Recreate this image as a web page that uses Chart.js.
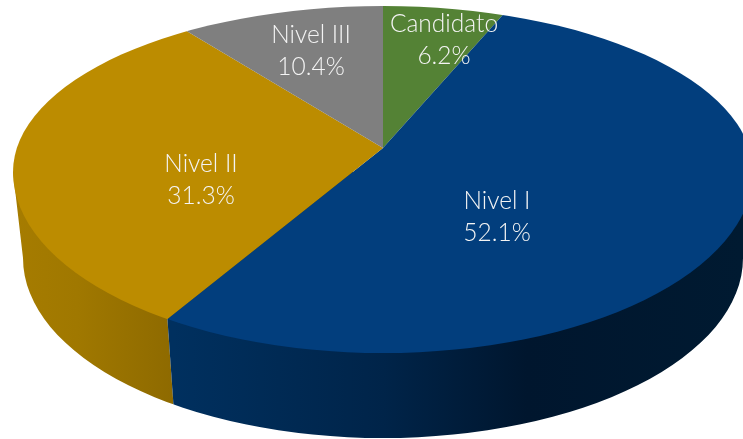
<!DOCTYPE html>
<html>
<head>
<meta charset="utf-8">
<style>html,body{margin:0;padding:0;background:#fff;overflow:hidden}canvas{display:block}</style>
<script src="https://cdn.jsdelivr.net/npm/chart.js@4"></script>
</head>
<body>
<canvas id="c" width="743" height="439"></canvas>
<script>
const categories = ["Candidato", "Nivel I", "Nivel II", "Nivel III"];
const shares = [6.2, 52.1, 31.3, 10.4];
const sliceColors = ["#548235", "#023E7D", "#BC8C00", "#7F7F7F"];

// projection of the tilted disc
const apex = {x: 383, y: 148};
const squash = 0.456;
const topFace = {x: 383, y: 172, rx: 370, ryUp: 166, ryDown: 181};
const lowFace = {x: 383, y: 258, rx: 360, ry: 180};
const labelAt = [[444, 24], [497, 201], [201, 164], [311, 35]];
const lineGap = 32;

function rimPath(ctx) {
  ctx.beginPath();
  ctx.moveTo(topFace.x - topFace.rx, topFace.y);
  ctx.lineTo(lowFace.x - lowFace.rx, lowFace.y);
  ctx.ellipse(lowFace.x, lowFace.y, lowFace.rx, lowFace.ry, 0, Math.PI, 0, true);
  ctx.lineTo(topFace.x + topFace.rx, topFace.y);
  ctx.closePath();
}
// where a slice edge leaves the near half of the top outline
function edgeOnTop(angle) {
  const dx = Math.cos(angle), dy = Math.sin(angle) * squash;
  const ox = apex.x - topFace.x, oy = apex.y - topFace.y;
  const rx2 = topFace.rx * topFace.rx, ry2 = topFace.ryDown * topFace.ryDown;
  const a = dx * dx / rx2 + dy * dy / ry2;
  const b = 2 * (ox * dx / rx2 + oy * dy / ry2);
  const c = ox * ox / rx2 + oy * oy / ry2 - 1;
  const t = (-b + Math.sqrt(b * b - 4 * a * c)) / (2 * a);
  return {x: apex.x + dx * t, y: apex.y + dy * t};
}

const disc3d = {
  id: "disc3d",
  beforeDatasetsDraw(chart) {
    const ctx = chart.ctx;
    const arcs = chart.getDatasetMeta(0).data;
    const split = edgeOnTop(arcs[1].endAngle);
    const splitLow = {x: split.x + 6, y: split.y + 85};

    ctx.save();
    ctx.beginPath();
    ctx.rect(0, 0, 743, 439);
    ctx.clip();

    // gold side
    ctx.save();
    ctx.beginPath();
    ctx.moveTo(0, 0); ctx.lineTo(split.x, 0); ctx.lineTo(split.x, split.y);
    ctx.lineTo(splitLow.x, splitLow.y); ctx.lineTo(splitLow.x + 3, 439); ctx.lineTo(0, 439);
    ctx.closePath(); ctx.clip();
    let g = ctx.createLinearGradient(13, 0, splitLow.x, 0);
    g.addColorStop(0, "#A67C00");
    g.addColorStop(0.4, "#A07800");
    g.addColorStop(1, "#8E6A00");
    ctx.fillStyle = g; rimPath(ctx); ctx.fill();
    ctx.restore();

    // blue side
    ctx.save();
    ctx.beginPath();
    ctx.moveTo(743, 0); ctx.lineTo(split.x, 0); ctx.lineTo(split.x, split.y);
    ctx.lineTo(splitLow.x, splitLow.y); ctx.lineTo(splitLow.x + 3, 439); ctx.lineTo(743, 439);
    ctx.closePath(); ctx.clip();
    g = ctx.createLinearGradient(splitLow.x, 0, 743, 0);
    g.addColorStop(0, "#00305F");
    g.addColorStop(0.37, "#002449");
    g.addColorStop(0.62, "#00162E");
    g.addColorStop(1, "#001A31");
    ctx.fillStyle = g; rimPath(ctx); ctx.fill();
    ctx.restore();
    ctx.restore();

    // top face: the library's pie, seen through the tilted outline
    const a0 = arcs[0], k = 3;
    ctx.save();
    ctx.beginPath();
    ctx.ellipse(topFace.x, topFace.y, topFace.rx, topFace.ryUp, 0, Math.PI, 0);
    ctx.ellipse(topFace.x, topFace.y, topFace.rx, topFace.ryDown, 0, 0, Math.PI);
    ctx.closePath();
    ctx.clip();
    ctx.translate(apex.x, apex.y);
    ctx.scale(k, k * squash);
    ctx.translate(-a0.x, -a0.y);
  },
  afterDatasetsDraw(chart) {
    const ctx = chart.ctx;
    ctx.restore();
    ctx.save();
    ctx.font = "300 24.5px Lato";
    ctx.fillStyle = "#F4F4F4";
    ctx.textAlign = "center";
    ctx.textBaseline = "middle";
    categories.forEach((name, i) => {
      ctx.fillText(name, labelAt[i][0], labelAt[i][1]);
      ctx.fillText(shares[i].toFixed(1) + "%", labelAt[i][0], labelAt[i][1] + lineGap);
    });
    ctx.restore();
  }
};

new Chart(document.getElementById("c"), {
  type: "pie",
  data: {
    labels: categories,
    datasets: [{data: shares, backgroundColor: sliceColors, borderWidth: 0}]
  },
  options: {
    responsive: false,
    animation: false,
    events: [],
    layout: {padding: 0},
    plugins: {legend: {display: false}, tooltip: {enabled: false}, title: {display: false}}
  },
  plugins: [disc3d]
});
</script>
</body>
</html>
